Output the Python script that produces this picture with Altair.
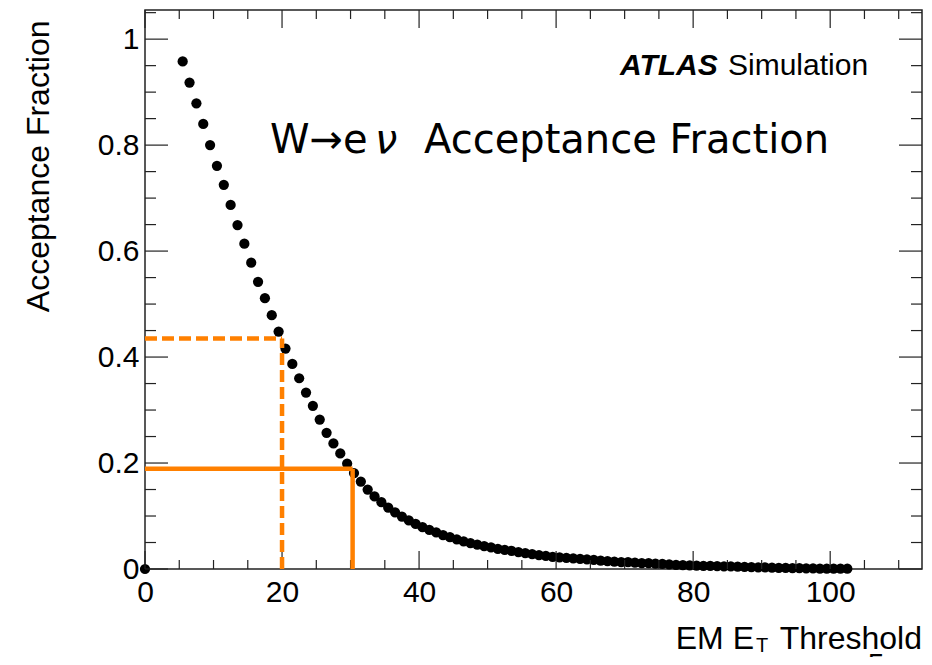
import altair as alt
import pandas as pd

# ---- data ----
x_vals = [0.0] + [i + 0.5 for i in range(5, 103)]
y_vals = [0.0,
          0.958, 0.918, 0.879, 0.840, 0.800, 0.761, 0.725, 0.687, 0.649, 0.614,
          0.578, 0.542, 0.511, 0.479, 0.448, 0.416, 0.387, 0.360, 0.333, 0.308,
          0.282, 0.257, 0.237, 0.218, 0.199, 0.181, 0.165, 0.150, 0.137, 0.126,
          0.116, 0.107, 0.099, 0.092, 0.085, 0.079, 0.074, 0.069, 0.064, 0.060,
          0.056, 0.052, 0.049, 0.046, 0.043, 0.041, 0.038, 0.036, 0.034, 0.032,
          0.030, 0.028, 0.026, 0.025, 0.023, 0.022, 0.021, 0.020, 0.019, 0.018,
          0.017, 0.016, 0.015, 0.014, 0.013, 0.013, 0.012, 0.011, 0.011, 0.010,
          0.0095, 0.0085, 0.0078, 0.0072, 0.0067, 0.0063, 0.0060, 0.0057, 0.0053, 0.0051,
          0.0050, 0.0045, 0.0040, 0.0036, 0.0032, 0.0029, 0.0026, 0.0023, 0.0020, 0.0018,
          0.0015, 0.0012, 0.0010, 0.0009, 0.0008, 0.0007, 0.0006, 0.0005]

guide_x = [20.0, 30.3]
guide_y = [0.435, 0.189]
guide_dashed = [True, False]

x_major = [0, 20, 40, 60, 80, 100]
x_minor = [5, 10, 15, 25, 30, 35, 45, 50, 55, 65, 70, 75, 85, 90, 95, 105, 110]
y_major = [0.0, 0.2, 0.4, 0.6, 0.8, 1.0]
y_minor = [0.05, 0.1, 0.15, 0.25, 0.3, 0.35, 0.45, 0.5, 0.55, 0.65, 0.7, 0.75,
           0.85, 0.9, 0.95, 1.05]

W, H = 777, 559
SANS = "Liberation Sans"
ORANGE = "#FF8000"

xs = alt.Scale(domain=[0, 113.4], nice=False, zero=False)
ys = alt.Scale(domain=[0, 1.055], nice=False, zero=False)

df = pd.DataFrame({"x": x_vals, "y": y_vals})

points = alt.Chart(df).mark_circle(size=105, color="black", opacity=1).encode(
    x=alt.X("x:Q", scale=xs, axis=alt.Axis(
        values=x_major, title=None, labelFont=SANS, labelFontSize=30,
        labelColor="black", labelPadding=8, labelFlush=False,
        domain=False, ticks=False, grid=False)),
    y=alt.Y("y:Q", scale=ys, axis=alt.Axis(
        values=y_major, format="~g", labelFont=SANS, labelFontSize=30,
        labelColor="black", labelPadding=6, labelFlush=False,
        domain=False, ticks=False, grid=False,
        title="Acceptance Fraction", titleFont=SANS, titleFontSize=32,
        titleFontWeight="normal", titleColor="black", titleAngle=270,
        titleAlign="right", titleBaseline="alphabetic", titleX=-97, titleY=10)),
)

gdf = pd.DataFrame({"xv": guide_x, "yv": guide_y, "dashed": guide_dashed, "z": [0.0, 0.0]})


def guides(sub, dash):
    kw = dict(color=ORANGE, strokeWidth=4.5)
    if dash:
        kw["strokeDash"] = [12, 5]
    h = alt.Chart(sub).mark_rule(**kw).encode(
        x=alt.X("z:Q", scale=xs), x2="xv:Q", y=alt.Y("yv:Q", scale=ys))
    v = alt.Chart(sub).mark_rule(**kw).encode(
        x=alt.X("xv:Q", scale=xs), y=alt.Y("z:Q", scale=ys), y2="yv:Q")
    return [h, v]


guide_layers = guides(gdf[gdf.dashed], True) + guides(gdf[~gdf.dashed], False)


def xticks(vals, length):
    d = pd.DataFrame({"v": vals})
    b = alt.Chart(d).mark_rule(color="#222", strokeWidth=1.2).encode(
        x=alt.X("v:Q", scale=xs), y=alt.value(H), y2=alt.value(H - length))
    t = alt.Chart(d).mark_rule(color="#222", strokeWidth=1.2).encode(
        x=alt.X("v:Q", scale=xs), y=alt.value(0), y2=alt.value(length))
    return [b, t]


def yticks(vals, length):
    d = pd.DataFrame({"v": vals})
    l = alt.Chart(d).mark_rule(color="#222", strokeWidth=1.2).encode(
        y=alt.Y("v:Q", scale=ys), x=alt.value(0), x2=alt.value(length))
    r = alt.Chart(d).mark_rule(color="#222", strokeWidth=1.2).encode(
        y=alt.Y("v:Q", scale=ys), x=alt.value(W), x2=alt.value(W - length))
    return [l, r]


tick_layers = xticks(x_major, 18) + xticks(x_minor, 9) + yticks(y_major, 23) + yticks(y_minor, 11)


def label(txt, x, y, size, align="left", font=SANS, weight="normal", style="normal"):
    return alt.Chart(pd.DataFrame({"t": [txt]})).mark_text(
        align=align, baseline="alphabetic", fontSize=size, font=font,
        fontWeight=weight, fontStyle=style, color="black").encode(
        text="t:N", x=alt.value(x), y=alt.value(y))


texts = [
    label("ATLAS", 475, 65, 30, weight="bold", style="italic"),
    label("Simulation", 583, 65, 30),
    label("W→e", 125, 143, 40, font="DejaVu Sans"),
    label("ν", 230, 143, 40, font="DejaVu Sans", style="italic"),
    label("Acceptance Fraction", 279, 143, 40, font="DejaVu Sans"),
    label("EM E", 609, 639, 32, align="right"),
    label("T", 611, 642, 20),
    label("Threshold", 777, 639, 32, align="right"),
    label("5", 731, 664, 30, align="center"),
]

chart = alt.layer(points, *tick_layers, *guide_layers, *texts).properties(
    width=W, height=H,
    autosize=alt.AutoSizeParams(type="none"),
    padding={"left": 137, "top": 2, "right": 2, "bottom": 88},
    background="white",
).configure_view(stroke="#222", strokeWidth=1.5).configure_axis(grid=False)

chart.save("out.html", embed_options={"renderer": "svg", "actions": False})
